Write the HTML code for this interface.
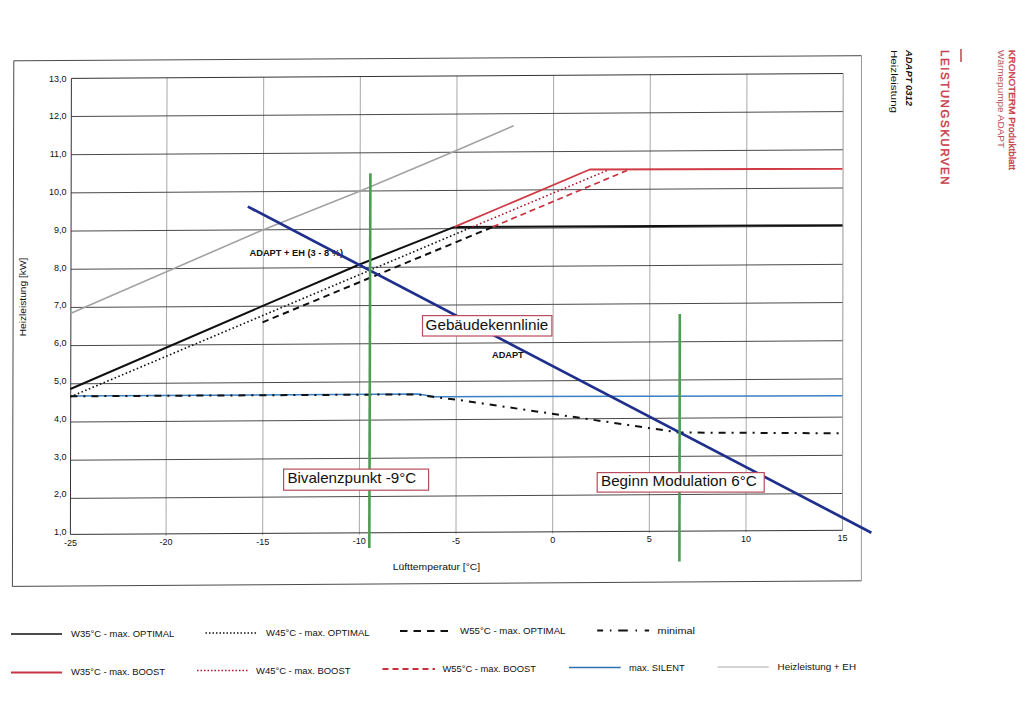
<!DOCTYPE html>
<html><head><meta charset="utf-8"><style>
html,body{margin:0;padding:0;background:#fff;}
svg{display:block;font-family:"Liberation Sans",sans-serif;}
</style></head><body>
<svg width="1024" height="724" viewBox="0 0 1024 724">
<rect width="1024" height="724" fill="#fff"/>
<polyline points="861.5,55.7 13.8,60.8 12.4,586.4 861.4,580.8" fill="none" stroke="#4a4a4a" stroke-width="1"/>
<line x1="861.5" y1="55.7" x2="861.4" y2="580.8" stroke="#9a9a9a" stroke-width="1"/>
<line x1="167.05" y1="77.69" x2="166.05" y2="535.97" stroke="#a8a8a8" stroke-width="1"/>
<line x1="263.70" y1="77.08" x2="262.70" y2="535.36" stroke="#a8a8a8" stroke-width="1"/>
<line x1="360.35" y1="76.46" x2="359.35" y2="534.74" stroke="#a8a8a8" stroke-width="1"/>
<line x1="457.00" y1="75.85" x2="456.00" y2="534.13" stroke="#a8a8a8" stroke-width="1"/>
<line x1="553.65" y1="75.24" x2="552.65" y2="533.52" stroke="#a8a8a8" stroke-width="1"/>
<line x1="650.30" y1="74.62" x2="649.30" y2="532.90" stroke="#a8a8a8" stroke-width="1"/>
<line x1="746.95" y1="74.01" x2="745.95" y2="532.29" stroke="#a8a8a8" stroke-width="1"/>
<line x1="70.48" y1="498.39" x2="842.56" y2="493.49" stroke="#4a4a4a" stroke-width="1"/>
<line x1="70.57" y1="460.20" x2="842.62" y2="455.30" stroke="#4a4a4a" stroke-width="1"/>
<line x1="70.65" y1="422.01" x2="842.68" y2="417.11" stroke="#4a4a4a" stroke-width="1"/>
<line x1="70.73" y1="383.82" x2="842.73" y2="378.92" stroke="#4a4a4a" stroke-width="1"/>
<line x1="70.82" y1="345.63" x2="842.79" y2="340.73" stroke="#4a4a4a" stroke-width="1"/>
<line x1="70.90" y1="307.44" x2="842.85" y2="302.54" stroke="#4a4a4a" stroke-width="1"/>
<line x1="70.98" y1="269.25" x2="842.91" y2="264.35" stroke="#4a4a4a" stroke-width="1"/>
<line x1="71.07" y1="231.06" x2="842.97" y2="226.16" stroke="#4a4a4a" stroke-width="1"/>
<line x1="71.15" y1="192.87" x2="843.03" y2="187.97" stroke="#4a4a4a" stroke-width="1"/>
<line x1="71.23" y1="154.68" x2="843.08" y2="149.78" stroke="#4a4a4a" stroke-width="1"/>
<line x1="71.32" y1="116.49" x2="843.14" y2="111.59" stroke="#4a4a4a" stroke-width="1"/>
<polyline points="843.2,73.5 71.4,78.4 70.4,534.4 842.5,530.3" fill="none" stroke="#333" stroke-width="1"/>
<line x1="843.2" y1="73.5" x2="842.5" y2="530.3" stroke="#999" stroke-width="1"/>
<polyline points="70.40,313.40 264.00,229.40 359.70,191.30 455.20,151.00 513.60,125.80" fill="none" stroke="#a2a2a2" stroke-width="1.6" stroke-linecap="butt" stroke-linejoin="round"/>
<text x="249.5" y="255.7" font-size="9" font-weight="bold" fill="#111" text-anchor="start" textLength="93.5" lengthAdjust="spacingAndGlyphs" >ADAPT + EH (3 - 8 %)</text>
<text x="492" y="357.6" font-size="9.5" font-weight="bold" fill="#111" text-anchor="start" textLength="31.7" lengthAdjust="spacingAndGlyphs" >ADAPT</text>
<polyline points="70.40,396.00 418.00,394.10 435.20,396.80 842.50,395.80" fill="none" stroke="#3a80c4" stroke-width="1.5" stroke-linecap="butt" stroke-linejoin="round"/>
<polyline points="70.40,396.30 418.00,394.40 435.20,397.20 455.60,399.50 679.00,432.50 840.70,433.30" fill="none" stroke="#111" stroke-width="2" stroke-dasharray="7 6 2 6" stroke-linecap="butt" stroke-linejoin="round"/>
<polyline points="262.50,322.40 492.80,226.90" fill="none" stroke="#111" stroke-width="2" stroke-dasharray="6.5 4.5" stroke-linecap="butt" stroke-linejoin="round"/>
<polyline points="70.40,396.80 472.50,226.90" fill="none" stroke="#111" stroke-width="1.6" stroke-dasharray="1.6 2.4" stroke-linecap="butt" stroke-linejoin="round"/>
<polyline points="70.40,389.00 263.40,305.70 359.50,264.50 454.50,226.90 842.50,225.20" fill="none" stroke="#111" stroke-width="2" stroke-linecap="butt" stroke-linejoin="round"/>
<polyline points="492.80,226.90 627.00,170.50" fill="none" stroke="#c8323c" stroke-width="1.7" stroke-dasharray="6 4" stroke-linecap="butt" stroke-linejoin="round"/>
<polyline points="472.50,226.90 608.00,170.10" fill="none" stroke="#a8102a" stroke-width="1.5" stroke-dasharray="1.6 2.4" stroke-linecap="butt" stroke-linejoin="round"/>
<polyline points="454.50,226.90 589.80,169.50 842.50,168.80" fill="none" stroke="#d03a44" stroke-width="1.8" stroke-linecap="butt" stroke-linejoin="round"/>
<line x1="247.8" y1="206.6" x2="871.4" y2="532.7" stroke="#1f2f8c" stroke-width="2.7"/>
<line x1="370.4" y1="173.2" x2="369.3" y2="548.1" stroke="#4c9c52" stroke-width="2.6"/>
<line x1="679.8" y1="314" x2="679.4" y2="561.4" stroke="#4c9c52" stroke-width="2.6"/>
<rect x="422.5" y="315.6" width="129.39999999999998" height="20.399999999999977" fill="#fff" stroke="#b84c5c" stroke-width="1.2"/><text x="425.6" y="329.7" font-size="15" font-weight="normal" fill="#111" text-anchor="start" textLength="122.7" lengthAdjust="spacingAndGlyphs" >Gebäudekennlinie</text>
<rect x="283.6" y="469.1" width="145.0" height="21.099999999999966" fill="#fff" stroke="#b84c5c" stroke-width="1.2"/><text x="287.4" y="483.4" font-size="15" font-weight="normal" fill="#111" text-anchor="start" textLength="128.8" lengthAdjust="spacingAndGlyphs" >Bivalenzpunkt -9°C</text>
<rect x="597.2" y="472.6" width="167.0" height="19.5" fill="#fff" stroke="#b84c5c" stroke-width="1.2"/><text x="601" y="486.4" font-size="15.5" font-weight="normal" fill="#111" text-anchor="start" textLength="155.7" lengthAdjust="spacingAndGlyphs" >Beginn Modulation 6°C</text>
<text x="66.60" y="535.28" font-size="9" font-weight="normal" fill="#111" text-anchor="end" >1,0</text>
<text x="66.60" y="497.46" font-size="9" font-weight="normal" fill="#111" text-anchor="end" >2,0</text>
<text x="66.60" y="459.65" font-size="9" font-weight="normal" fill="#111" text-anchor="end" >3,0</text>
<text x="66.60" y="421.83" font-size="9" font-weight="normal" fill="#111" text-anchor="end" >4,0</text>
<text x="66.60" y="384.02" font-size="9" font-weight="normal" fill="#111" text-anchor="end" >5,0</text>
<text x="66.60" y="346.20" font-size="9" font-weight="normal" fill="#111" text-anchor="end" >6,0</text>
<text x="66.60" y="308.39" font-size="9" font-weight="normal" fill="#111" text-anchor="end" >7,0</text>
<text x="66.60" y="270.57" font-size="9" font-weight="normal" fill="#111" text-anchor="end" >8,0</text>
<text x="66.60" y="232.76" font-size="9" font-weight="normal" fill="#111" text-anchor="end" >9,0</text>
<text x="66.60" y="194.94" font-size="9" font-weight="normal" fill="#111" text-anchor="end" >10,0</text>
<text x="66.60" y="157.13" font-size="9" font-weight="normal" fill="#111" text-anchor="end" >11,0</text>
<text x="66.60" y="119.31" font-size="9" font-weight="normal" fill="#111" text-anchor="end" >12,0</text>
<text x="66.60" y="81.50" font-size="9" font-weight="normal" fill="#111" text-anchor="end" >13,0</text>
<text x="70.40" y="546.08" font-size="9" font-weight="normal" fill="#111" text-anchor="middle" >-25</text>
<text x="166.05" y="545.47" font-size="9" font-weight="normal" fill="#111" text-anchor="middle" >-20</text>
<text x="262.70" y="544.86" font-size="9" font-weight="normal" fill="#111" text-anchor="middle" >-15</text>
<text x="359.35" y="544.24" font-size="9" font-weight="normal" fill="#111" text-anchor="middle" >-10</text>
<text x="456.00" y="543.63" font-size="9" font-weight="normal" fill="#111" text-anchor="middle" >-5</text>
<text x="552.65" y="543.02" font-size="9" font-weight="normal" fill="#111" text-anchor="middle" >0</text>
<text x="649.30" y="542.40" font-size="9" font-weight="normal" fill="#111" text-anchor="middle" >5</text>
<text x="745.95" y="541.79" font-size="9" font-weight="normal" fill="#111" text-anchor="middle" >10</text>
<text x="842.50" y="541.18" font-size="9" font-weight="normal" fill="#111" text-anchor="middle" >15</text>
<text x="392.7" y="570.4" font-size="9" font-weight="normal" fill="#111" text-anchor="start" textLength="87.5" lengthAdjust="spacingAndGlyphs" >Lüfttemperatur [°C]</text>
<text transform="translate(25.6,336.3) rotate(-90)" font-size="8.6" fill="#111" textLength="78.7" lengthAdjust="spacingAndGlyphs">Heizleistung [kW]</text>
<line x1="11" y1="634" x2="62" y2="634" stroke="#111" stroke-width="1.6"/>
<text x="71.1" y="637" font-size="9" font-weight="normal" fill="#111" text-anchor="start" textLength="103.2" lengthAdjust="spacingAndGlyphs" >W35°C - max. OPTIMAL</text>
<line x1="205.5" y1="633" x2="257.5" y2="633" stroke="#111" stroke-width="1.5" stroke-dasharray="1.5 2"/>
<text x="266" y="636" font-size="9" font-weight="normal" fill="#111" text-anchor="start" textLength="103.5" lengthAdjust="spacingAndGlyphs" >W45°C - max. OPTIMAL</text>
<line x1="400" y1="631" x2="449" y2="631" stroke="#111" stroke-width="2" stroke-dasharray="7.5 6"/>
<text x="460" y="633.7" font-size="9" font-weight="normal" fill="#111" text-anchor="start" textLength="105.5" lengthAdjust="spacingAndGlyphs" >W55°C -  max. OPTIMAL</text>
<line x1="597.2" y1="630.5" x2="649.4" y2="630.5" stroke="#111" stroke-width="1.8" stroke-dasharray="5.9 6.8 1.5 6.8 9.6 7.7 1.5 7.7 4.4 100"/>
<text x="657.6" y="634" font-size="9" font-weight="normal" fill="#111" text-anchor="start" textLength="37.4" lengthAdjust="spacingAndGlyphs" >minimal</text>
<line x1="11" y1="672.5" x2="62" y2="672.5" stroke="#c83444" stroke-width="2"/>
<text x="71" y="675" font-size="9" font-weight="normal" fill="#111" text-anchor="start" textLength="94" lengthAdjust="spacingAndGlyphs" >W35°C - max. BOOST</text>
<line x1="197" y1="670.5" x2="248" y2="670.5" stroke="#b01030" stroke-width="1.3" stroke-dasharray="1.5 2"/>
<text x="256" y="674" font-size="9" font-weight="normal" fill="#111" text-anchor="start" textLength="94.5" lengthAdjust="spacingAndGlyphs" >W45°C - max. BOOST</text>
<line x1="382.5" y1="669" x2="435" y2="669" stroke="#c8323c" stroke-width="2" stroke-dasharray="6 4"/>
<text x="442.5" y="671.6" font-size="9" font-weight="normal" fill="#111" text-anchor="start" textLength="93.5" lengthAdjust="spacingAndGlyphs" >W55°C - max. BOOST</text>
<line x1="569" y1="667.5" x2="620.7" y2="667.5" stroke="#2f6fb0" stroke-width="1.6"/>
<text x="629" y="671" font-size="9" font-weight="normal" fill="#111" text-anchor="start" textLength="55.6" lengthAdjust="spacingAndGlyphs" >max. SILENT</text>
<line x1="717.5" y1="667" x2="768.8" y2="667" stroke="#a8a8a8" stroke-width="1.0"/>
<text x="777.6" y="670" font-size="9" font-weight="normal" fill="#111" text-anchor="start" textLength="78.4" lengthAdjust="spacingAndGlyphs" >Heizleistung + EH</text>
<text transform="translate(1008.5,50) rotate(90)" font-size="9.2" font-weight="normal" font-style="normal" fill="#c8404c" textLength="120" lengthAdjust="spacingAndGlyphs" stroke="#c8404c" stroke-width="0.35">KRONOTERM Produktblatt</text>
<text transform="translate(997.5,50) rotate(90)" font-size="9" font-weight="normal" font-style="normal" fill="#c0505a" textLength="98" lengthAdjust="spacingAndGlyphs" >Wärmepumpe ADAPT</text>
<line x1="961" y1="49" x2="961" y2="62" stroke="#c0404a" stroke-width="1.5"/>
<text transform="translate(940.8,50) rotate(90)" font-size="11.5" font-weight="normal" font-style="normal" fill="#c8404c" textLength="134.6" lengthAdjust="spacing" stroke="#c8404c" stroke-width="0.45">LEISTUNGSKURVEN</text>
<text transform="translate(906,50) rotate(90)" font-size="9.8" font-weight="bold" font-style="italic" fill="#111" textLength="56" lengthAdjust="spacingAndGlyphs" >ADAPT 0312</text>
<text transform="translate(890.5,50) rotate(90)" font-size="9" font-weight="normal" font-style="normal" fill="#111" textLength="63" lengthAdjust="spacingAndGlyphs" >Heizleistung</text>
</svg></body></html>
